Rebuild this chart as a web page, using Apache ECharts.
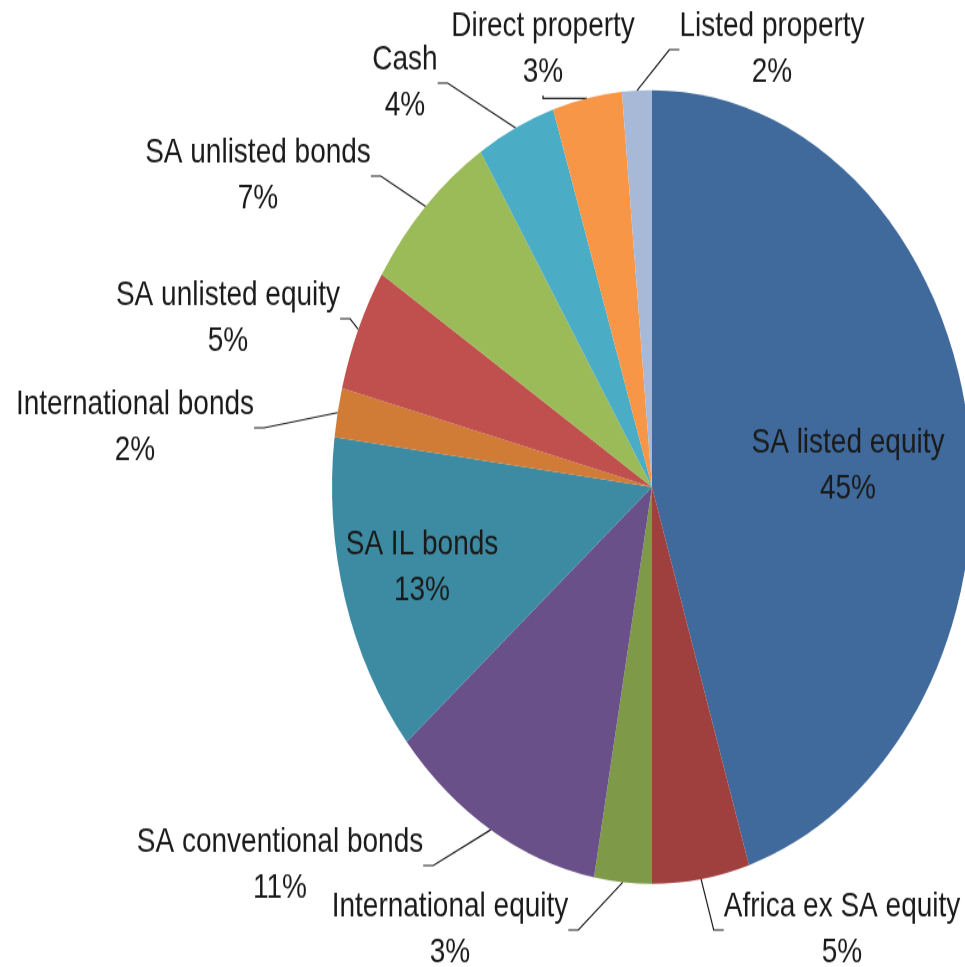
<!DOCTYPE html>
<html>
<head>
<meta charset="utf-8">
<script src="https://cdn.jsdelivr.net/npm/echarts@6/dist/echarts.min.js"></script>
<style>
  html, body { margin: 0; padding: 0; background: #ffffff; width: 965px; height: 967px; }
  #wrap { position: relative; width: 965px; height: 967px; overflow: hidden; }
  #chart { position: absolute; left: 0; top: 0; width: 965px; height: 780px; transform: scaleY(1.24); transform-origin: 0 0; }
</style>
</head>
<body>
<div id="wrap"><div id="chart"></div></div>
<script>
// Categories in clockwise order from 12 o'clock
const categories = [
  'SA listed equity', 'Africa ex SA equity', 'International equity',
  'SA conventional bonds', 'SA IL bonds', 'International bonds',
  'SA unlisted equity', 'SA unlisted bonds', 'Cash',
  'Direct property', 'Listed property'
];
// Slice values (percent of total)
const values = [45.1, 4.9, 2.9, 11.0, 13.1, 2.0, 5.0, 7.0, 4.0, 3.5, 1.5];
// Percent labels as printed in the chart
const pctLabels = ['45%', '5%', '3%', '11%', '13%', '2%', '5%', '7%', '4%', '3%', '2%'];

const colors = ['#3F6A9B', '#A0403E', '#7E9A48', '#6A5088', '#3D8BA3', '#D07C37',
                '#C0504D', '#9BBB59', '#4BACC6', '#F79646', '#A8B9D8'];
const insideLabels = [true, false, false, false, true, false, false, false, false, false, false];
// label block centres (layout, pre-scale coordinates)
const labelPos = [
  [848, 376], [842, 750], [450, 750], [280, 698], [422, 458], [135, 345],
  [228, 257], [258, 142], [405, 67], [543, 40], [772, 40]
];

const data = categories.map((c, i) => ({
  name: c,
  value: values[i],
  itemStyle: { color: colors[i] },
  label: { position: insideLabels[i] ? 'inside' : 'outside' },
  labelLine: { show: !insideLabels[i] }
}));

const chart = echarts.init(document.getElementById('chart'), null, { renderer: 'canvas' });
chart.setOption({
  animation: false,
  backgroundColor: '#ffffff',
  series: [{
    type: 'pie',
    center: [652, 392.7],
    radius: [0, 320],
    startAngle: 90,
    clockwise: true,
    avoidLabelOverlap: false,
    data: data,
    itemStyle: { borderWidth: 0 },
    emphasis: { disabled: true },
    label: {
      show: true,
      fontFamily: 'Liberation Sans',
      fontSize: 28,
      lineHeight: 37,
      color: '#1a1a1a',
      align: 'center',
      formatter: (p) => p.name + '\n' + pctLabels[p.dataIndex]
    },
    labelLine: {
      show: true,
      length: 15,
      length2: 10,
      lineStyle: { color: '#1a1a1a', width: 1.2 }
    },
    labelLayout: (params) => {
      const p = labelPos[params.dataIndex];
      return { x: p[0], y: p[1], align: 'center', verticalAlign: 'middle' };
    }
  }]
});
</script>
</body>
</html>
